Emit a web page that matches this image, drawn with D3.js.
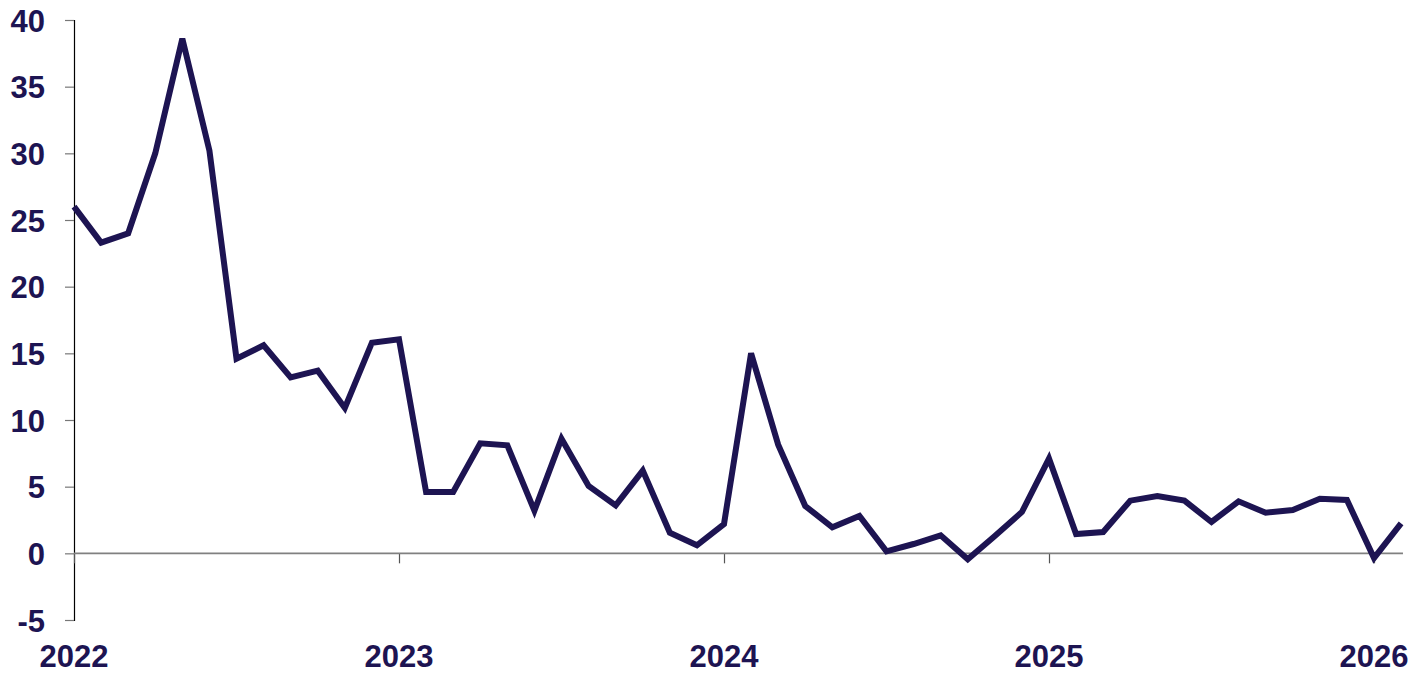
<!DOCTYPE html>
<html>
<head>
<meta charset="utf-8">
<script src="https://cdn.jsdelivr.net/npm/d3@7"></script>
<style>
  html, body { margin: 0; padding: 0; background: #ffffff; }
  svg { display: block; }
  text { font-family: "Liberation Sans", Arial, sans-serif; font-weight: bold; fill: #1d1452; }
</style>
</head>
<body>
<svg id="chart" width="1424" height="675"></svg>
<script>
// Monthly series, Jan 2022 .. Feb 2026
const months = [
  "2022-01","2022-02","2022-03","2022-04","2022-05","2022-06","2022-07","2022-08","2022-09","2022-10","2022-11","2022-12",
  "2023-01","2023-02","2023-03","2023-04","2023-05","2023-06","2023-07","2023-08","2023-09","2023-10","2023-11","2023-12",
  "2024-01","2024-02","2024-03","2024-04","2024-05","2024-06","2024-07","2024-08","2024-09","2024-10","2024-11","2024-12",
  "2025-01","2025-02","2025-03","2025-04","2025-05","2025-06","2025-07","2025-08","2025-09","2025-10","2025-11","2025-12",
  "2026-01","2026-02"
];
const values = [
  26.0, 23.3, 24.0, 30.0, 38.6, 30.2, 14.6, 15.6, 13.2, 13.7, 10.9, 15.8,
  16.05, 4.6, 4.6, 8.25, 8.1, 3.2, 8.6, 5.05, 3.6, 6.2, 1.55, 0.6,
  2.2, 15.0, 8.15, 3.55, 1.95, 2.8, 0.15, 0.7, 1.35, -0.45, 1.3, 3.1,
  7.1, 1.45, 1.6, 3.95, 4.3, 3.95, 2.35, 3.9, 3.05, 3.25, 4.1, 4.0,
  -0.35, 2.25
];
const yearLabels = ["2022", "2023", "2024", "2025", "2026"];
const yearTickMonths = ["2022-01", "2023-01", "2024-01", "2025-01", "2026-01"];
const yTicks = [-5, 0, 5, 10, 15, 20, 25, 30, 35, 40];

const svg = d3.select("#chart");
const ink = "#1d1452";

const x = d3.scaleLinear().domain([0, 48]).range([74, 1374]);
const y = d3.scaleLinear().domain([-5, 40]).range([620, 20]);

const data = months.map((m, i) => ({ m, i, v: values[i] }));
const yearIdx = yearTickMonths.map(m => months.indexOf(m));

// Y axis
const yAxis = d3.axisLeft(y).tickValues(yTicks).tickSize(9).tickPadding(20).tickFormat(d => String(d));
const gy = svg.append("g").attr("transform", "translate(74,0)").call(yAxis);
gy.select(".domain").attr("stroke", "#000").attr("stroke-width", 1.2);
gy.selectAll(".tick line").attr("stroke", "#777").attr("stroke-width", 1.2);
gy.selectAll(".tick text").attr("font-size", 31).attr("font-family", "Liberation Sans, Arial, sans-serif")
  .attr("font-weight", "bold").attr("fill", ink).attr("dy", "0.36em");

// X axis along zero
const xEnd = x(49.07);
const xAxis = d3.axisBottom(x).tickValues(yearIdx).tickSize(10).tickFormat("");
const gx = svg.append("g").attr("transform", `translate(0,${y(0)})`).call(xAxis);
gx.select(".domain").remove();
gx.append("line").attr("x1", 74).attr("x2", xEnd).attr("y1", 0).attr("y2", 0)
  .attr("stroke", "#808080").attr("stroke-width", 1.6);
gx.selectAll(".tick line").attr("stroke", "#555").attr("stroke-width", 1.2);

// Year labels at bottom
svg.append("g").selectAll("text").data(yearIdx).join("text")
  .attr("x", d => x(d))
  .attr("y", 667)
  .attr("text-anchor", "middle")
  .attr("font-size", 31)
  .text((d, i) => yearLabels[i]);

// Line
const line = d3.line().x(d => x(d.i)).y(d => y(d.v));
svg.append("path").datum(data)
  .attr("d", line)
  .attr("fill", "none")
  .attr("stroke", ink)
  .attr("stroke-width", 6)
  .attr("stroke-linejoin", "miter")
  .attr("stroke-miterlimit", 4);
</script>
</body>
</html>
